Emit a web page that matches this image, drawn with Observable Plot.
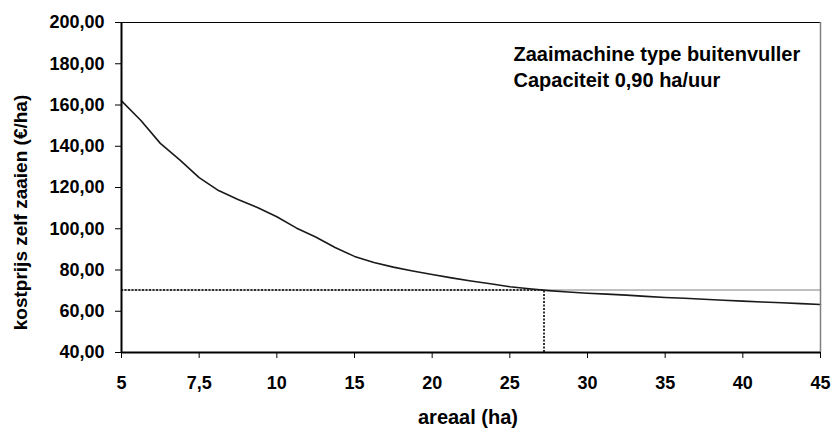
<!DOCTYPE html>
<html><head><meta charset="utf-8">
<script src="https://cdn.jsdelivr.net/npm/d3@7"></script>
<script src="https://cdn.jsdelivr.net/npm/@observablehq/plot@0.6"></script>
<style>html,body{margin:0;padding:0;background:#fff}svg{display:block}</style>
</head><body><div id="chart"></div>
<script>
const areaal = [5,5.625,6.25,6.875,7.5,8.125,8.75,9.375,10,11.25,12.5,13.75,15,16.25,17.5,18.75,20,21.25,22.5,23.75,25,26.25,27.5,28.75,30,31.25,32.5,33.75,35,36.25,37.5,38.75,40,41.25,42.5,43.75,45];
const kostprijs = [162.0,152.5,141.4,133.4,124.8,118.5,114.2,110.3,105.8,100.4,96.0,90.9,86.6,83.6,81.4,79.5,77.8,76.2,74.7,73.3,71.9,70.9,70.0,69.3,68.7,68.3,67.8,67.2,66.7,66.3,65.8,65.3,64.9,64.5,64.1,63.7,63.3];
const xTicks = [5,7.5,10,15,20,25,30,35,40,45];
const yTicks = [40,60,80,100,120,140,160,180,200];
const drempel = 70.3;
const snijpunt = 27.2;
const annotatie = ["Zaaimachine type buitenvuller", "Capaciteit 0,90 ha/uur"];
const xTitel = "areaal (ha)";
const yTitel = "kostprijs zelf zaaien (€/ha)";

// category axis (Excel style): tick labels equally spaced
const pos = d3.scaleLinear().domain(xTicks).range(xTicks.map((_, i) => i));
const data = areaal.map((a, i) => ({p: pos(a), kostprijs: kostprijs[i]}));
const xMin = pos(xTicks[0]), xMax = pos(xTicks[xTicks.length - 1]), xCut = pos(snijpunt);

const W = 834, H = 431, mL = 121, mR = 14, mT = 22, mB = 79;
const nl = d3.formatLocale({decimal: ",", thousands: ".", grouping: [3], currency: ["€", ""]});
const fmtY = nl.format(".2f");
const fmtX = i => String(xTicks[Math.round(i)]).replace(".", ",");
const font = "Liberation Sans, Arial, Helvetica, sans-serif";

const chart = Plot.plot({
  width: W, height: H,
  marginLeft: mL, marginRight: mR, marginTop: mT, marginBottom: mB,
  style: {fontFamily: font, fontWeight: "bold", fontSize: "18px", color: "#000", background: "#fff"},
  x: {domain: [xMin, xMax]},
  y: {domain: [40, 200]},
  marks: [
    Plot.ruleY([drempel], {stroke: "#808080", strokeWidth: 1}),
    Plot.ruleY([drempel], {x1: xMin, x2: xCut, stroke: "#000", strokeWidth: 1.6, strokeDasharray: "2,1.5"}),
    Plot.ruleX([xCut], {y1: 40, y2: drempel, stroke: "#000", strokeWidth: 1.6, strokeDasharray: "2,1.5"}),
    Plot.line(data, {x: "p", y: "kostprijs", stroke: "#1a1a1a", strokeWidth: 1.6}),
    Plot.ruleY([200], {stroke: "#000", strokeWidth: 1}),
    Plot.ruleX([xMax], {stroke: "#808080", strokeWidth: 1.5}),
    Plot.ruleX([xMin], {stroke: "#000", strokeWidth: 2}),
    Plot.ruleY([40], {stroke: "#000", strokeWidth: 2}),
    Plot.axisY({ticks: yTicks, tickFormat: fmtY, tickSize: 6, tickPadding: 11, label: null, fontSize: 18, fontWeight: "bold"}),
    Plot.axisX({ticks: xTicks.map((_, i) => i), tickFormat: fmtX, tickSize: 6, tickPadding: 18, label: null, fontSize: 18, fontWeight: "bold"}),
    Plot.text([annotatie[0]], {frameAnchor: "top-left", dx: 392, dy: 38, textAnchor: "start", lineAnchor: "bottom", fontSize: 20, fontWeight: "bold"}),
    Plot.text([annotatie[1]], {frameAnchor: "top-left", dx: 392, dy: 64, textAnchor: "start", lineAnchor: "bottom", fontSize: 20, fontWeight: "bold"}),
    Plot.text([xTitel], {frameAnchor: "bottom", dx: -3, dy: 71.5, textAnchor: "middle", lineAnchor: "bottom", fontSize: 20, fontWeight: "bold"}),
    Plot.text([yTitel], {frameAnchor: "left", dx: -101, dy: 25, rotate: -90, textAnchor: "middle", lineAnchor: "middle", fontSize: 19, fontWeight: "bold"})
  ]
});
document.getElementById("chart").appendChild(chart);
</script>
</body></html>
